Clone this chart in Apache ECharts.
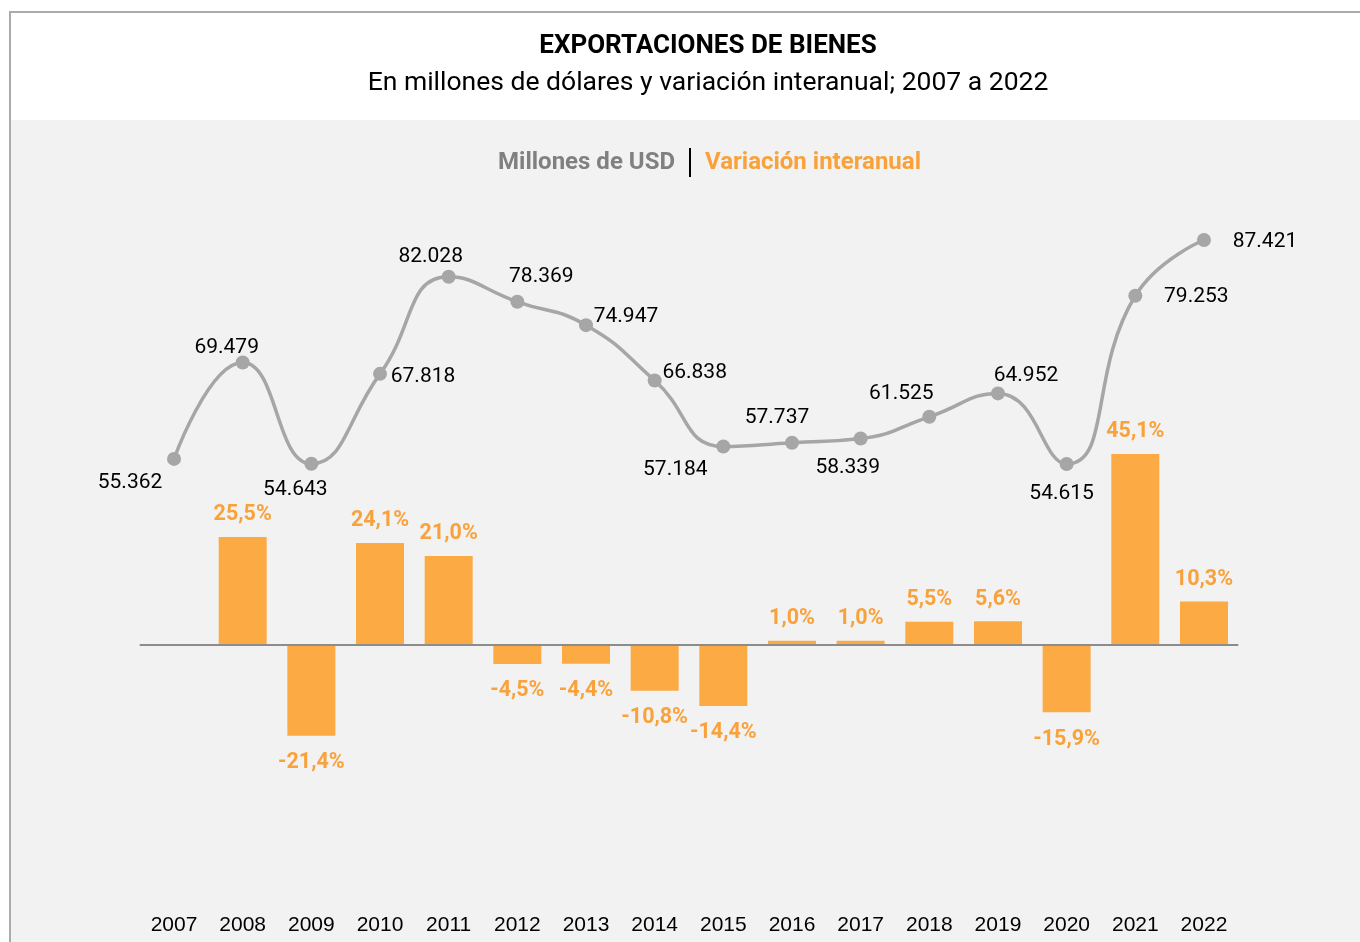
<!DOCTYPE html>
<html>
<head>
<meta charset="utf-8">
<script src="https://cdn.jsdelivr.net/npm/echarts@6/dist/echarts.min.js"></script>
<style>
html,body{margin:0;padding:0;background:#fff;}
#chart{width:1360px;height:942px;}
</style>
</head>
<body>
<div id="chart"></div>
<script>
const years = ['2007','2008','2009','2010','2011','2012','2013','2014','2015','2016','2017','2018','2019','2020','2021','2022'];
const exportsUSD = [55362, 69479, 54643, 67818, 82028, 78369, 74947, 66838, 57184, 57737, 58339, 61525, 64952, 54615, 79253, 87421];
const yoyChange = [null, 25.5, -21.4, 24.1, 21.0, -4.5, -4.4, -10.8, -14.4, 1.0, 1.0, 5.5, 5.6, -15.9, 45.1, 10.3];
// label placement (offset from point centre), kept apart from data
const lineLabelOffsets = [[-44,24],[-16,-15],[-16,26],[43,3],[-18,-20],[24,-25],[40,-8],[40,-8],[-48,23],[-15,-25],[-13,29],[-28,-23],[28,-18],[-5,30],[61,1],[61,2]];

const gridTop = 180, gridBottomPx = 900;
// bar axis: zero at 645, 4.235 px per %
const barZero = 645, barScale = 4.235;
const barMax = (barZero - gridTop) / barScale;
const barMin = -(gridBottomPx - barZero) / barScale;
// line axis: 54615 at y=464, 0.006828 px per unit
const lineRefV = 54615, lineRefY = 464, lineScale = 0.006828;
const lineMax = lineRefV + (lineRefY - gridTop) / lineScale;
const lineMin = lineRefV - (gridBottomPx - lineRefY) / lineScale;

const fmtThousands = v => String(v).replace(/\B(?=(\d{3})+(?!\d))/g, '.');
const fmtPct = v => v.toFixed(1).replace('.', ',') + '%';

const orange = '#FBAA44';
const orangeText = '#F9A23C';

const chart = echarts.init(document.getElementById('chart'));
chart.setOption({
  animation: false,
  backgroundColor: '#ffffff',
  graphic: [
    {type:'rect', shape:{x:10, y:12, width:1360, height:940}, style:{fill:'#ffffff', stroke:'#ababab', lineWidth:2}, z:-10},
    {type:'rect', shape:{x:11, y:120, width:1360, height:830}, style:{fill:'#f2f2f2'}, z:-9},
    {type:'text', x:708, y:46, style:{text:'EXPORTACIONES DE BIENES', font:'bold 26px Roboto', fill:'#000', textAlign:'center', textVerticalAlign:'middle'}},
    {type:'text', x:708, y:83, style:{text:'En millones de dólares y variación interanual; 2007 a 2022', font:'26.5px Roboto', fill:'#000', textAlign:'center', textVerticalAlign:'middle'}},
    {type:'text', x:675, y:163, style:{text:'Millones de USD', font:'bold 24px Roboto', fill:'#808080', textAlign:'right', textVerticalAlign:'middle'}},
    {type:'rect', shape:{x:689, y:148, width:2, height:29}, style:{fill:'#000'}},
    {type:'text', x:705, y:163, style:{text:'Variación interanual', font:'bold 24px Roboto', fill:orangeText, textAlign:'left', textVerticalAlign:'middle'}}
  ],
  grid: {left: 139.7, right: 1360 - 1238.3, top: gridTop, bottom: 942 - gridBottomPx, containLabel:false},
  xAxis: {
    type:'category', data: years,
    axisLine:{show:false}, axisTick:{show:false}, splitLine:{show:false},
    axisLabel:{margin:15, fontFamily:'Liberation Sans', fontSize:21, color:'#000'}
  },
  yAxis: [
    {type:'value', min: barMin, max: barMax, show:false, splitLine:{show:false}},
    {type:'value', min: lineMin, max: lineMax, show:false, splitLine:{show:false}}
  ],
  series: [
    {
      type:'bar', yAxisIndex:0, barWidth:48,
      data: yoyChange.map(v => v === null ? null : {
        value: v,
        label: v >= 0 ? {position:'top', distance:11} : {position:'bottom', distance:16}
      }),
      itemStyle:{color: orange},
      label:{show:true, fontFamily:'Roboto', fontWeight:'bold', fontSize:21.5, color: orangeText,
        formatter: p => fmtPct(p.value)},
      markLine:{
        silent:true, symbol:['none','none'],
        lineStyle:{color:'#8c8c8c', width:2, type:'solid'},
        label:{show:false},
        data:[{yAxis:0}]
      },
      z:2
    },
    {
      type:'line', yAxisIndex:1, smooth:0.5,
      data: exportsUSD.map((v,i) => ({
        value: v,
        label: {offset: lineLabelOffsets[i]}
      })),
      symbol:'circle', symbolSize:14,
      lineStyle:{color:'#a6a6a6', width:3.5},
      itemStyle:{color:'#a6a6a6'},
      label:{show:true, position:'inside', fontFamily:'Roboto', fontSize:21, color:'#000',
        formatter: p => fmtThousands(p.value)},
      z:3
    }
  ]
});
</script>
</body>
</html>
